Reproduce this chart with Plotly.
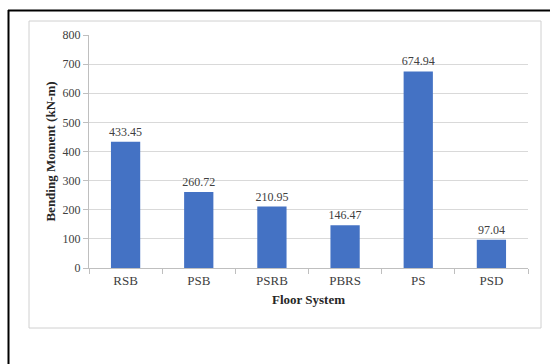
import plotly.graph_objects as go

categories = ["RSB", "PSB", "PSRB", "PBRS", "PS", "PSD"]
values = [433.45, 260.72, 210.95, 146.47, 674.94, 97.04]
labels = ["433.45", "260.72", "210.95", "146.47", "674.94", "97.04"]

W, H = 550, 364
L, R, T, B = 89, 528, 35, 268

def px(x):
    return (x - L) / (R - L)

def py(y):
    return (B - y) / (B - T)

fig = go.Figure(go.Bar(
    x=categories, y=values, text=labels, textposition="outside",
    textfont=dict(family="Liberation Serif", size=12, color="#404040"),
    constraintext="none",
    marker=dict(color="#4472C4", line=dict(width=0)),
    width=0.4, cliponaxis=False,
))

fig.update_layout(
    width=W, height=H,
    margin=dict(l=L, r=W - R, t=T, b=H - B),
    paper_bgcolor="white", plot_bgcolor="white",
    showlegend=False,
    font=dict(family="Liberation Serif", color="#404040"),
    xaxis=dict(
        showline=True, linecolor="#bfbfbf", linewidth=1,
        ticks="outside", tickson="boundaries", ticklen=5, tickcolor="#bfbfbf",
        tickfont=dict(family="Liberation Serif", size=13, color="#404040"),
        title=dict(text="<b>Floor System</b>", font=dict(family="Liberation Serif", size=13, color="#262626"), standoff=8),
    ),
    yaxis=dict(
        range=[0, 800], dtick=100, showgrid=True, gridcolor="#d9d9d9",
        showline=True, linecolor="#bfbfbf", linewidth=1,
        ticks="outside", ticklen=5, tickcolor="#bfbfbf",
        tickfont=dict(family="Liberation Serif", size=12, color="#404040"),
        zeroline=False,
        title=dict(text="<b>Bending Moment (kN-m)</b>", font=dict(family="Liberation Serif", size=13, color="#262626"), standoff=4),
    ),
    shapes=[
        dict(type="rect", xref="paper", yref="paper",
             x0=px(29), x1=px(541), y0=py(328), y1=py(21),
             line=dict(color="#d0d0d0", width=1), layer="below"),
        dict(type="line", xref="paper", yref="paper",
             x0=px(8.5), x1=px(8.5), y0=py(10), y1=py(370),
             line=dict(color="black", width=2)),
        dict(type="line", xref="paper", yref="paper",
             x0=px(8), x1=px(560), y0=py(10.5), y1=py(10.5),
             line=dict(color="black", width=2)),
    ],
)

fig.write_html("out.html")
